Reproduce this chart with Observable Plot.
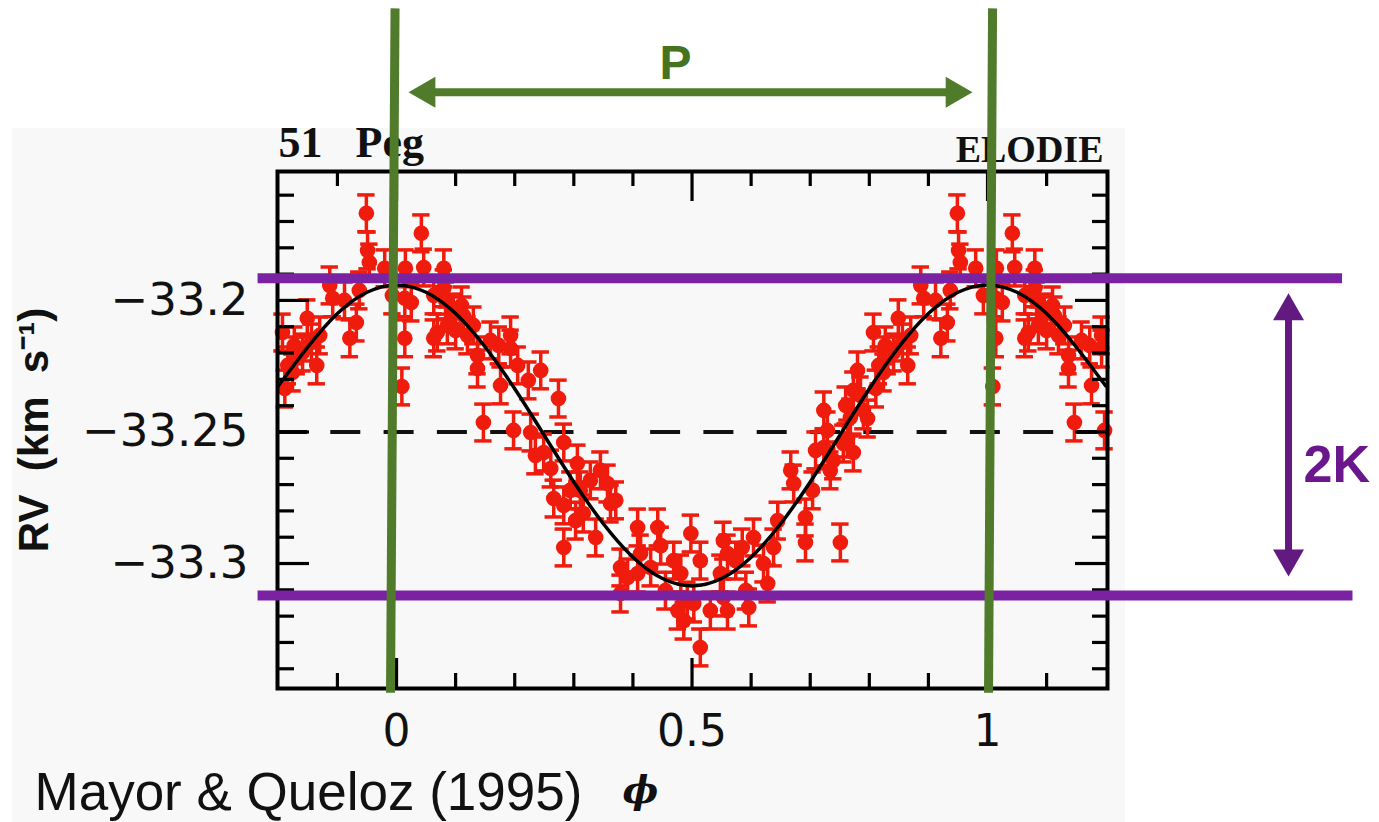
<!DOCTYPE html>
<html><head><meta charset="utf-8">
<script src="https://cdn.jsdelivr.net/npm/d3@7"></script>
<script src="https://cdn.jsdelivr.net/npm/@observablehq/plot@0.6"></script>
<style>
html,body{margin:0;padding:0;background:#fff;}
#wrap{position:relative;width:1379px;height:822px;overflow:hidden;}
#scan{position:absolute;left:12px;top:128px;width:1113px;height:694px;background:#f8f8f8;}
#chart{position:absolute;left:0;top:0;}
</style></head><body>
<div id="wrap"><div id="scan"></div><div id="chart"></div></div>
<script>
// ---- measured radial velocities (phase folded, one period) ----
const phase = [0.014,0.014,0.009,0.015,0.042,0.046,0.080,0.063,0.080,0.025,0.069,0.063,0.086,0.096,0.113,0.130,0.137,0.137,0.193,0.193,0.205,0.176,0.244,0.274,0.147,0.198,0.227,0.249,0.261,0.266,0.283,0.283,0.110,0.173,0.120,
0.306,0.311,0.328,0.357,0.362,0.316,0.337,0.283,0.379,0.391,0.379,0.408,0.442,0.498,0.413,0.430,0.469,0.481,0.492,0.476,0.486,0.514,0.503,0.408,
0.553,0.585,0.604,0.638,0.621,0.628,0.553,0.560,0.596,0.548,0.645,0.692,0.692,0.751,0.667,0.672,0.704,0.723,0.729,0.723,0.739,0.756,0.768,0.773,0.780,0.773,0.763,0.560,0.790,
0.797,0.811,0.824,0.865,0.841,0.856,0.807,0.849,0.892,0.887,0.921,0.932,0.949,0.954,0.993,0.951,0.831,0.816,0.980,
0.371,0.345,0.294,0.447,0.514,0.455,0.574,0.591,0.531,0.734,0.709,0.760,0.785,0.827,0.870,0.912,0.937,0.083,0.100,0.159,0.223,0.235,0.303];
const rv = [-33.1992,-33.2144,-33.2327,-33.1878,-33.1745,-33.1875,-33.1878,-33.1981,-33.1954,-33.2008,-33.2122,-33.2144,-33.2095,-33.2046,-33.2057,-33.2095,-33.2209,-33.2259,-33.2133,-33.2183,-33.2247,-33.2323,-33.2266,-33.2373,-33.2464,-33.2494,-33.2502,-33.2578,-33.2639,-33.2753,-33.2779,-33.2540,-33.2019,-33.2171,-33.2133,
-33.2620,-33.2722,-33.2684,-33.2696,-33.2772,-33.2810,-33.2901,-33.2939,-33.3015,-33.3053,-33.3114,-33.2863,-33.2863,-33.2886,-33.2962,-33.3015,-33.2989,-33.3038,-33.3141,-33.3179,-33.3217,-33.3319,-33.3152,-33.3038,
-33.2913,-33.2939,-33.2901,-33.2939,-33.3000,-33.3076,-33.3129,-33.3179,-33.3167,-33.3038,-33.2837,-33.2825,-33.2920,-33.2920,-33.2646,-33.2696,-33.2722,-33.2418,-33.2494,-33.2559,-33.2608,-33.2544,-33.2445,-33.2342,-33.2266,-33.2578,-33.2525,-33.2962,-33.2418,
-33.2449,-33.2335,-33.2274,-33.2247,-33.2198,-33.2160,-33.2122,-33.2068,-33.1992,-33.1943,-33.2144,-33.2084,-33.1669,-33.1856,-33.1981,-33.1810,-33.2209,-33.2247,-33.1878,
-33.2760,-33.2646,-33.2722,-33.2932,-33.2989,-33.3103,-33.2989,-33.3103,-33.3179,-33.2646,-33.2570,-33.2399,-33.2361,-33.2171,-33.2133,-33.2000,-33.1962,-33.2000,-33.2114,-33.2152,-33.2304,-33.2589,-33.2837];
const rvError = 0.007;

// ---- orbital fit curve ----
const curvePhase = [-0.2,-0.15,-0.1,-0.05,0,0.05,0.1,0.15,0.2,0.25,0.3,0.35,0.4,0.45,0.5,0.55,0.6,0.65,0.7,0.75,0.8,0.85,0.9,0.95,1.0,1.05,1.1,1.15,1.2];
const curveRV = [-33.2325,-33.2177,-33.2050,-33.1969,-33.1941,-33.1969,-33.2050,-33.2177,-33.2336,-33.2513,-33.2690,-33.2849,-33.2976,-33.3057,-33.3085,-33.3057,-33.2976,-33.2849,-33.2690,-33.2513,-33.2336,-33.2177,-33.2050,-33.1969,-33.1941,-33.1969,-33.2050,-33.2177,-33.2325];
const systemicRV = [-33.25];

// ---- ticks ----
const xMajor = [0, 0.5, 1];
const xMajorLabels = ["0", "0.5", "1"];
const xMinor = [-0.1,0.1,0.2,0.3,0.4,0.6,0.7,0.8,0.9,1.1];
const yMajor = [-33.3, -33.25, -33.2];
const yMajorLabels = ["\u221233.3", "\u221233.25", "\u221233.2"];
const yMinor = [-33.34,-33.33,-33.32,-33.31,-33.29,-33.28,-33.27,-33.26,-33.24,-33.23,-33.22,-33.21,-33.19,-33.18,-33.17,-33.16];

// ---- annotations (data coordinates) ----
const periodLineTop = [-0.0025, 1.0085];      // phase at upper end of green lines
const periodLineBottom = [-0.0102, 1.0017];   // phase at lower end
const periodLineRV = [-33.0890, -33.3491];    // vertical extent
const periodArrow = {x1: 0.0203, x2: 0.9746, y: -33.1209, labelX: 0.472, labelY: -33.110};
const amplitudeLevels = [-33.1916, -33.3122];
const amplitudeLineX1 = -0.2343;
const amplitudeLineX2 = [1.6007, 1.6184];
const amplitudeArrow = {x: 1.5093, yTop: -33.1973, yBottom: -33.3049, labelX: 1.5347, labelY: -33.2627};

// ---- layout ----
const W = 1379, H = 822;
const mL = 277, mR = 272, mT = 171, mB = 134;
const xDomain = [-0.2014, 1.2030];
const yDomain = [-33.3475, -33.1510];
const plotW = W - mL - mR, plotH = H - mT - mB;
const pxX = plotW / (xDomain[1] - xDomain[0]);
const pxY = plotH / (yDomain[1] - yDomain[0]);

const pts = [];
phase.forEach((p, i) => {
  pts.push({phase: p, rv: rv[i]});
  if (p + 1 <= xDomain[1]) pts.push({phase: p + 1, rv: rv[i]});
  if (p - 1 >= xDomain[0]) pts.push({phase: p - 1, rv: rv[i]});
});
const curve = curvePhase.map((p, i) => ({phase: p, rv: curveRV[i]}));

const RED = "#ef1c0e", GREEN = "#4f7b2b", PURPLE = "#7b22a3", PURPLE2 = "#631a80";
const capHalf = 8.7 / pxX;
const headR = 11.5;
const headOff = 1.555 * headR; // tip-to-centroid distance of triangle symbol

const tickStyle = {stroke: "#000", strokeWidth: 3.2};

const chart = Plot.plot({
  width: W, height: H,
  marginLeft: mL, marginRight: mR, marginTop: mT, marginBottom: mB,
  x: {domain: xDomain, axis: null},
  y: {domain: yDomain, axis: null},
  style: {background: "transparent", overflow: "visible", fontFamily: "Liberation Sans"},
  marks: [
    Plot.ruleY(systemicRV, {stroke: "#111", strokeWidth: 4, strokeDasharray: "30,23.3"}),
    Plot.ruleX(pts, {x: "phase", y1: d => d.rv - rvError, y2: d => d.rv + rvError, stroke: RED, strokeWidth: 3.5}),
    Plot.ruleY(pts, {y: d => d.rv + rvError, x1: d => d.phase - capHalf, x2: d => d.phase + capHalf, stroke: RED, strokeWidth: 3.5}),
    Plot.ruleY(pts, {y: d => d.rv - rvError, x1: d => d.phase - capHalf, x2: d => d.phase + capHalf, stroke: RED, strokeWidth: 3.5}),
    Plot.dot(pts, {x: "phase", y: "rv", r: 7.8, fill: RED}),
    Plot.line(curve, {x: "phase", y: "rv", curve: "natural", stroke: "#000", strokeWidth: 3.5}),
    Plot.frame({stroke: "#000", strokeWidth: 4}),
    Plot.tickX(xMinor, {...tickStyle, insetTop: plotH - 15}),
    Plot.tickX(xMajor, {...tickStyle, insetTop: plotH - 30}),
    Plot.tickX(xMinor, {...tickStyle, insetBottom: plotH - 15}),
    Plot.tickX(xMajor, {...tickStyle, insetBottom: plotH - 30}),
    Plot.tickY(yMinor, {...tickStyle, insetRight: plotW - 17}),
    Plot.tickY(yMajor, {...tickStyle, insetRight: plotW - 32}),
    Plot.tickY(yMinor, {...tickStyle, insetLeft: plotW - 15}),
    Plot.tickY(yMajor, {...tickStyle, insetLeft: plotW - 32}),
    Plot.text(xMajor, {x: d => d, text: (d, i) => xMajorLabels[i], frameAnchor: "bottom", dy: 43, lineAnchor: "middle", fontSize: 44, fontFamily: "DejaVu Sans", fill: "#111"}),
    Plot.text(yMajor, {y: d => d, text: (d, i) => yMajorLabels[i], frameAnchor: "left", dx: -29, textAnchor: "end", lineAnchor: "middle", fontSize: 45, fontFamily: "DejaVu Sans", fill: "#111"}),
    Plot.text(["RV\u00a0\u00a0(km\u00a0\u00a0s\u207b\u00b9)"], {text: d => d, frameAnchor: "left", dx: -243, rotate: -90, textAnchor: "middle", lineAnchor: "middle", fontSize: 42, fontWeight: "bold", fontFamily: "Liberation Sans", fill: "#111"}),
    Plot.text(["\u03d5"], {text: d => d, frameAnchor: "bottom", dx: -52, dy: 102, lineAnchor: "middle", fontSize: 38, fontStyle: "italic", fontWeight: "bold", fontFamily: "DejaVu Serif", fill: "#111"}),
    Plot.text(["51\u00a0\u00a0\u00a0Peg"], {text: d => d, frameAnchor: "top-left", dx: 1, dy: -15, textAnchor: "start", lineAnchor: "bottom", fontSize: 44, fontWeight: "bold", fontFamily: "Liberation Serif", fill: "#111"}),
    Plot.text(["ELODIE"], {text: d => d, frameAnchor: "top-right", dx: -4, dy: -10, textAnchor: "end", lineAnchor: "bottom", fontSize: 38, fontWeight: "bold", fontFamily: "Liberation Serif", fill: "#111"}),
    Plot.text(["Mayor & Queloz (1995)"], {text: d => d, frameAnchor: "bottom-left", dx: -243, dy: 121, textAnchor: "start", lineAnchor: "bottom", fontSize: 53, fontFamily: "Liberation Sans", fill: "#111"}),
    // amplitude lines
    Plot.ruleY(amplitudeLevels, {y: d => d, x1: amplitudeLineX1, x2: (d, i) => amplitudeLineX2[i], stroke: PURPLE, strokeWidth: 10}),
    // period lines
    Plot.link(periodLineTop, {x1: d => d, x2: (d, i) => periodLineBottom[i], y1: periodLineRV[0], y2: periodLineRV[1], stroke: GREEN, strokeWidth: 9}),
    // period arrow
    Plot.link([periodArrow], {x1: d => d.x1 + headOff / pxX, x2: d => d.x2 - headOff / pxX, y1: d => d.y, y2: d => d.y, stroke: GREEN, strokeWidth: 8}),
    Plot.dot([periodArrow], {x: d => d.x1 + headOff / pxX, y: d => d.y, symbol: "triangle", r: headR, rotate: -90, fill: GREEN, stroke: "none"}),
    Plot.dot([periodArrow], {x: d => d.x2 - headOff / pxX, y: d => d.y, symbol: "triangle", r: headR, rotate: 90, fill: GREEN, stroke: "none"}),
    Plot.text([periodArrow], {x: "labelX", y: "labelY", text: () => "P", lineAnchor: "middle", fontSize: 48, fontWeight: "bold", fontFamily: "Liberation Sans", fill: "#467322"}),
    // amplitude arrow
    Plot.link([amplitudeArrow], {x1: "x", x2: "x", y1: d => d.yTop - headOff / pxY, y2: d => d.yBottom + headOff / pxY, stroke: PURPLE2, strokeWidth: 7}),
    Plot.dot([amplitudeArrow], {x: "x", y: d => d.yTop - headOff / pxY, symbol: "triangle", r: headR, rotate: 0, fill: PURPLE2, stroke: "none"}),
    Plot.dot([amplitudeArrow], {x: "x", y: d => d.yBottom + headOff / pxY, symbol: "triangle", r: headR, rotate: 180, fill: PURPLE2, stroke: "none"}),
    Plot.text([amplitudeArrow], {x: "labelX", y: "labelY", text: () => "2K", textAnchor: "start", lineAnchor: "middle", fontSize: 52, fontWeight: "bold", fontFamily: "Liberation Sans", fill: "#6a168c"})
  ]
});
document.getElementById("chart").appendChild(chart);
</script>
</body></html>
